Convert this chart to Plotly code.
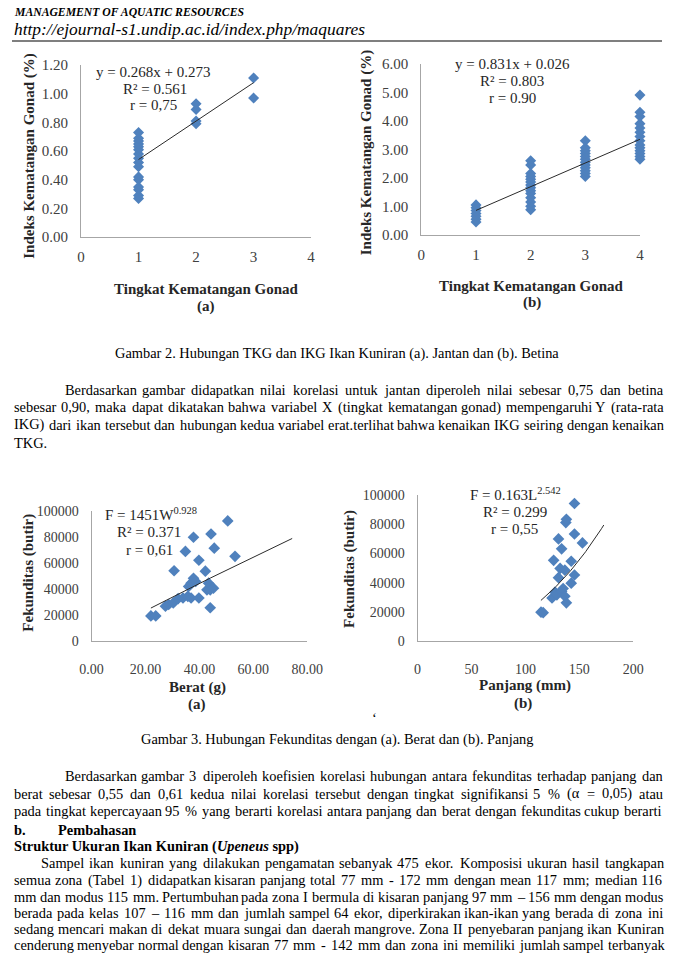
import numpy as np
import plotly.graph_objects as go

W, H = 678, 956

# ---------------- data ----------------
# Gambar 2 (a) Jantan: TKG vs IKG
tkg_jantan = [1, 1, 1, 1, 1, 1, 1, 1, 1, 1, 1, 1, 1, 1, 1, 1,
              2, 2, 2, 2, 3, 3]
ikg_jantan = [0.27, 0.29, 0.33, 0.35, 0.40, 0.42, 0.49, 0.52, 0.55, 0.58, 0.61, 0.63, 0.65, 0.67, 0.69, 0.73,
              0.79, 0.81, 0.89, 0.93, 0.97, 1.11]
# Gambar 2 (b) Betina
tkg_betina = [1, 1, 1, 1, 1, 1, 1,
              2, 2, 2, 2, 2, 2, 2, 2, 2, 2, 2, 2, 2, 2,
              3, 3, 3, 3, 3, 3, 3, 3, 3, 3, 3, 3,
              4, 4, 4, 4, 4, 4, 4, 4, 4, 4, 4, 4, 4, 4]
ikg_betina = [0.45, 0.55, 0.65, 0.75, 0.85, 0.95, 1.05,
              0.88, 1.00, 1.15, 1.30, 1.45, 1.55, 1.65, 1.75, 1.85, 1.95, 2.05, 2.15, 2.45, 2.60,
              2.05, 2.15, 2.25, 2.35, 2.45, 2.55, 2.65, 2.75, 2.85, 2.95, 3.05, 3.30,
              2.65, 2.75, 2.85, 2.95, 3.05, 3.15, 3.30, 3.45, 3.60, 3.75, 3.90, 4.15, 4.30, 4.90]
# Gambar 3 (a) Berat vs Fekunditas
berat = [22.0, 23.8, 27.4, 28.6, 30.3, 30.6, 32.1, 33.9, 34.8, 35.7, 36.0, 36.9, 36.9, 37.8,
         37.8, 38.6, 39.8, 39.8, 42.2, 42.8, 43.4, 44.0, 44.0, 44.3, 45.2, 45.5, 50.5, 53.2]
fek_berat = [19500, 19500, 27000, 28300, 29500, 54300, 32800, 33300, 69200, 34600, 42200, 33300, 44700, 80100,
             48500, 46000, 62400, 33300, 54000, 39600, 44700, 39600, 25800, 82600, 40900, 71700, 92700, 65400]
# Gambar 3 (b) Panjang vs Fekunditas
panjang = [114.5, 116.5, 124.7, 126.2, 127.5, 129.2, 130.7, 130.7, 132.2, 133.6, 133.6, 135.0, 136.6, 136.6,
           137.5, 138.0, 138.0, 142.5, 142.5, 145.5, 145.5, 145.5, 152.9]
fek_panjang = [19800, 19500, 29500, 55200, 33500, 31700, 43400, 69800, 49700, 34000, 63100, 36000, 30700, 48500,
               81000, 83200, 26200, 39600, 54600, 45200, 73200, 94000, 67100]

# trendline coefficients (from the equations shown in the chart)
lin_a = dict(slope=0.268, icpt=0.273, x=[1, 3])
lin_b = dict(slope=0.831, icpt=0.026, x=[1, 4])
pow_a = dict(a=1451, b=0.928, x=[22.0, 74.4])
pow_b = dict(a=0.163, b=2.542, x=[114.4, 172.7])

BLUE = "#4F81BD"
TREND = "#2b2b2b"
AXC = "#A6A6A6"
TICKC = "#404040"
SERIF = "Liberation Serif"

fig = go.Figure()

def sc(x, y, ax, size=8):
    fig.add_trace(go.Scatter(x=x, y=y, mode="markers", xaxis="x" + ax, yaxis="y" + ax,
                             marker=dict(symbol="diamond", size=size, color=BLUE, line=dict(width=0)),
                             cliponaxis=False, hoverinfo="skip"))

def trend_lin(p, ax):
    xs = np.array(p["x"], dtype=float)
    fig.add_trace(go.Scatter(x=xs, y=p["slope"] * xs + p["icpt"], mode="lines", xaxis="x" + ax,
                             yaxis="y" + ax, line=dict(color=TREND, width=1), cliponaxis=False,
                             hoverinfo="skip"))

def trend_pow(p, ax):
    xs = np.linspace(p["x"][0], p["x"][1], 60)
    fig.add_trace(go.Scatter(x=xs, y=p["a"] * xs ** p["b"], mode="lines", xaxis="x" + ax,
                             yaxis="y" + ax, line=dict(color=TREND, width=1), cliponaxis=False,
                             hoverinfo="skip"))

sc(tkg_jantan, ikg_jantan, "", 8.5)
trend_lin(lin_a, "")
sc(tkg_betina, ikg_betina, "2", 8.5)
trend_lin(lin_b, "2")
sc(berat, fek_berat, "3", 9)
trend_pow(pow_a, "3")
sc(panjang, fek_panjang, "4", 9)
trend_pow(pow_b, "4")

def px(x):
    return x / W

def py(y):
    return 1 - y / H

def xax(x0, x1, rng, dtick, fmt, anchor, size=14, tl=11):
    return dict(domain=[px(x0), px(x1)], range=rng, dtick=dtick, tick0=0, tickformat=fmt,
                anchor=anchor, showgrid=False, zeroline=False, showline=True, linecolor=AXC,
                linewidth=1, ticks="outside", ticklen=tl, tickcolor="rgba(0,0,0,0)",
                tickfont=dict(family=SERIF, size=size, color=TICKC), fixedrange=True)

def yax(y0, y1, rng, dtick, fmt, anchor, size=14):
    return dict(domain=[py(y1), py(y0)], range=rng, dtick=dtick, tick0=0, tickformat=fmt,
                anchor=anchor, showgrid=False, zeroline=False, showline=True, linecolor=AXC,
                linewidth=1, ticks="outside", ticklen=9, tickcolor="rgba(0,0,0,0)",
                tickfont=dict(family=SERIF, size=size, color=TICKC), fixedrange=True)

layout = dict(
    width=W, height=H, autosize=False, margin=dict(l=0, r=0, t=0, b=0),
    paper_bgcolor="white", plot_bgcolor="white", showlegend=False,
    xaxis=xax(72, 312, [0, 4], 1, "d", "y", 15, 6),
    yaxis=yax(58, 233, [0, 1.2], 0.2, ".2f", "x", 15),
    xaxis2=xax(427, 655, [0, 4], 1, "d", "y2", 15, 6),
    yaxis2=yax(56.7, 230.7, [0, 6], 1, ".2f", "x2", 15),
    xaxis3=xax(83, 308, [0, 80], 20, ".2f", "y3", 14, 15),
    yaxis3=yax(512, 644, [0, 100000], 20000, "d", "x3"),
    xaxis4=xax(423, 648, [0, 200], 50, "d", "y4", 14, 15),
    yaxis4=yax(495, 644, [0, 100000], 20000, "d", "x4"),
)
fig.update_layout(**layout)

ann = []

def A(text, x, y, size=14.4, color="#000000", xanchor="center", angle=0, family=SERIF):
    ann.append(dict(text=text, x=px(x), y=py(y), xref="paper", yref="paper", showarrow=False,
                    xanchor=xanchor, yanchor="middle", textangle=angle,
                    font=dict(family=family, size=size, color=color)))

# ---- header ----
A("<b><i>MANAGEMENT OF AQUATIC RESOURCES</i></b>", 0, 5, 11.7, xanchor="left")
A("<i>http://ejournal-s1.undip.ac.id/index.php/maquares</i>", 0, 21, 17.4, xanchor="left")
fig.add_shape(type="line", xref="paper", yref="paper", x0=0, x1=1, y0=py(33.5), y1=py(33.5),
              line=dict(color="#7F7F7F", width=2))

# ---- chart texts ----
TC = "#262626"
A("<b>Indeks Kematangan Gonad (%)</b>", 18, 151, 15, TC, angle=-90)
A("<b>Tingkat Kematangan Gonad</b>", 203, 286, 15, TC)
A("<b>(a)</b>", 202, 304, 15, TC)
A("y = 0.268x + 0.273", 147, 65, 15, TC)
A("R² = 0.561", 149, 82, 15, TC)
A("r = 0,75", 148, 99, 15, TC)

A("<b>Indeks Kematangan Gonad (%)</b>", 370, 147, 15, TC, angle=-90)
A("<b>Tingkat Kematangan Gonad</b>", 542, 283, 15, TC)
A("<b>(b)</b>", 542, 300, 15, TC)
A("y = 0.831x + 0.026", 522, 57, 15, TC)
A("R² = 0.803", 522, 74, 15, TC)
A("r = 0.90", 522, 92, 15, TC)

A("<b>Fekunditas (butir)</b>", 17, 574, 15, TC, angle=-90)
A("<b>Berat (g)</b>", 193, 691, 15, TC)
A("<b>(a)</b>", 193, 708, 15, TC)
A("F = 1451W<sup>0.928</sup>", 145, 515, 15, TC)
A("R² = 0.371", 143, 533, 15, TC)
A("r = 0,61", 143, 551, 15, TC)

A("<b>Fekunditas (butir)</b>", 352, 570, 15, TC, angle=-90)
A("<b>Panjang (mm)</b>", 535, 689, 15, TC)
A("<b>(b)</b>", 533, 707, 15, TC)
A("F = 0.163L<sup>2.542</sup>", 525, 494, 15, TC)
A("R² = 0.299", 525, 513, 15, TC)
A("r = 0,55", 524, 530, 15, TC)

# ---- body text ----
TW = {' ': 250, '!': 333, '"': 408, '#': 500, '$': 500, '%': 833, '&': 778, "'": 180, '(': 333, ')': 333,
      '*': 500, '+': 564, ',': 250, '-': 333, '.': 250, '/': 278, ':': 278, ';': 278, '<': 564, '=': 564,
      '>': 564, '?': 444, '@': 921, 'A': 722, 'B': 667, 'C': 667, 'D': 722, 'E': 611, 'F': 556, 'G': 722,
      'H': 722, 'I': 333, 'J': 389, 'K': 722, 'L': 611, 'M': 889, 'N': 722, 'O': 722, 'P': 556, 'Q': 722,
      'R': 667, 'S': 556, 'T': 611, 'U': 722, 'V': 722, 'W': 944, 'X': 722, 'Y': 722, 'Z': 611, '[': 333,
      ']': 333, 'a': 444, 'b': 500, 'c': 444, 'd': 500, 'e': 444, 'f': 333, 'g': 500, 'h': 500, 'i': 278,
      'j': 278, 'k': 500, 'l': 278, 'm': 778, 'n': 500, 'o': 500, 'p': 500, 'q': 500, 'r': 333, 's': 389,
      't': 278, 'u': 500, 'v': 500, 'w': 722, 'x': 500, 'y': 500, 'z': 444, '–': 500, 'α': 520}
for d in '0123456789':
    TW[d] = 500

BODY = 14.4

def tw(s, size=BODY):
    return sum(TW.get(c, 500) for c in s) * size / 1000.0

def line(text, y, x0, justify, x1=676):
    if not justify:
        A(text, x0, y, BODY, xanchor="left")
        return
    words = text.split()
    total = sum(tw(w) for w in words)
    gap = (x1 - x0 - total) / (len(words) - 1)
    gap = max(gap, 0.15 * BODY)
    x = x0
    for w in words:
        A(w, x, y, BODY, xanchor="left")
        x += tw(w) + gap

A("Gambar 2. Hubungan TKG dan IKG Ikan Kuniran (a). Jantan dan (b). Betina", 339, 351, BODY)
line("Berdasarkan gambar didapatkan nilai korelasi untuk jantan diperoleh nilai sebesar 0,75 dan betina", 388, 53, True)
line("sebesar 0,90, maka dapat dikatakan bahwa variabel X (tingkat kematangan gonad) mempengaruhi Y (rata-rata", 406, 0, True)
line("IKG) dari ikan tersebut dan hubungan kedua variabel erat.terlihat bahwa kenaikan IKG seiring dengan kenaikan", 424, 0, True)
line("TKG.", 442, 0, False)

A("‘", 378, 722, BODY)
A("Gambar 3. Hubungan Fekunditas dengan (a). Berat dan (b). Panjang", 339, 744, BODY)
line("Berdasarkan gambar 3 diperoleh koefisien korelasi hubungan antara fekunditas terhadap panjang dan", 781, 53, True)
line("berat sebesar 0,55 dan 0,61 kedua nilai korelasi tersebut dengan tingkat signifikansi 5 % (α = 0,05) atau", 799, 0, True)
line("pada tingkat kepercayaan 95 % yang berarti korelasi antara panjang dan berat dengan fekunditas cukup berarti", 817, 0, True, 674)
A("<b>b.</b>", 0, 836, BODY, xanchor="left")
A("<b>Pembahasan</b>", 46, 836, BODY, xanchor="left")
A("<b>Struktur Ukuran Ikan Kuniran (<i>Upeneus</i> spp)</b>", 0, 853, BODY, xanchor="left")
line("Sampel ikan kuniran yang dilakukan pengamatan sebanyak 475 ekor. Komposisi ukuran hasil tangkapan", 870, 28, True)
line("semua zona (Tabel 1) didapatkan kisaran panjang total 77 mm - 172 mm dengan mean 117 mm; median 116", 887, 0, True)
line("mm dan modus 115 mm. Pertumbuhan pada zona I bermula di kisaran panjang 97 mm – 156 mm dengan modus", 904, 0, True)
line("berada pada kelas 107 – 116 mm dan jumlah sampel 64 ekor, diperkirakan ikan-ikan yang berada di zona ini", 920, 0, True)
line("sedang mencari makan di dekat muara sungai dan daerah mangrove. Zona II penyebaran panjang ikan Kuniran", 937, 0, True)
line("cenderung menyebar normal dengan kisaran 77 mm - 142 mm dan zona ini memiliki jumlah sampel terbanyak", 953, 0, True)

fig.update_layout(annotations=ann)
fig.write_html("out.html")
